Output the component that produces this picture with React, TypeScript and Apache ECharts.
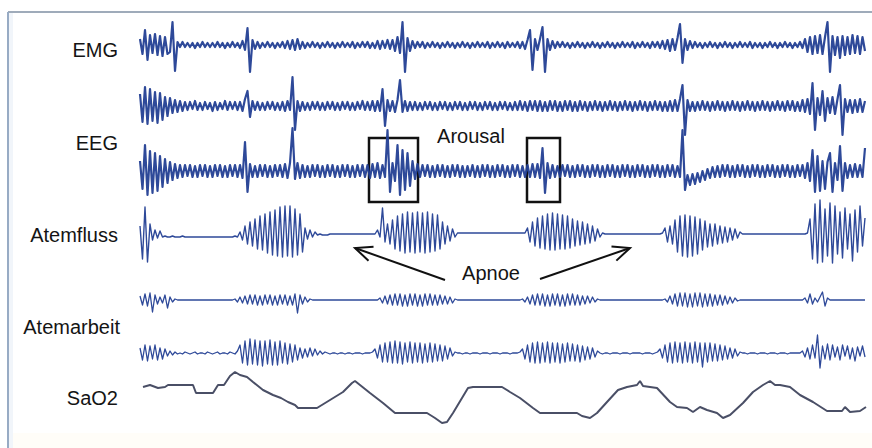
import { useEffect, useRef } from "react";
import * as echarts from "echarts";

// sample spacing of the signal arrays (time units)
const STEP = 2.5;

const emg = [
  6, -9, 15, -15, 10, -8, 11, -10, 9, -11,
  8, -9, -7, 23, -26, 3, -2, 3, -2, 2,
  -2, 2, -3, 2, -2, 3, -2, 2, -2, 2,
  -2, 3, -2, 2, -3, 2, -2, 3, -2, 2,
  -3, 4, -5, 17, -27, 5, -4, 3, -3, 2,
  -2, 3, -2, 2, -3, 2, -2, 3, -3, 4,
  -4, 5, -5, 6, -4, 3, -3, 2, -2, 3,
  -2, 2, -3, 2, -2, 3, -2, 2, -3, 2,
  -2, 3, -2, 2, -2, 3, -3, 2, -2, 3,
  -2, 3, -3, 2, -3, 4, -4, 4, -3, 5,
  -4, 5, -6, 8, -8, 23, -27, 7, -6, 4,
  -3, 3, -2, 3, -3, 2, -2, 3, -2, 2,
  -3, 2, -2, 3, -2, 2, -3, 2, -2, 3,
  -2, 2, -3, 2, -2, 3, -2, 2, -2, 3,
  -3, 2, -2, 3, -2, 2, -3, 3, -2, 2,
  -2, 3, -3, 3, -4, 5, 15, -25, 6, -5,
  6, 18, -27, 6, -5, 4, -3, 3, -2, 3,
  -2, 2, -3, 2, -2, 3, -2, 2, -3, 2,
  -2, 3, -2, 2, -3, 2, -2, 3, -2, 2,
  -3, 2, -2, 3, -2, 2, -2, 3, -3, 2,
  -2, 3, -2, 2, -3, 3, -2, 3, -3, 4,
  -4, 5, -6, 6, -5, 7, 21, -18, 6, -5,
  4, -3, 3, -2, 2, -3, 2, -2, 3, -2,
  2, -3, 2, -2, 3, -2, 2, -3, 2, -2,
  3, -2, 2, -2, 3, -3, 2, -2, 2, -3,
  2, -2, 3, -2, 2, -3, 2, -2, 3, -2,
  2, -3, 2, -2, 3, -3, 6, -7, 8, -9,
  9, -8, 10, -9, 8, 23, -27, 9, -10, 8,
  -13, 9, -10, 8, -9, 10, -8, 9, -9, 8,
  -6,
];

const eegUpper = [
  12, -16, 19, -18, 17, -15, 14, -17, 13, -14,
  9, -10, 8, -7, 6, -6, 5, -5, 4, -4,
  4, -3, 5, -4, 3, -4, 4, -3, 3, -5,
  4, -4, 3, -3, 5, -4, 4, -3, 4, -4,
  4, -5, 7, 15, -11, 5, -4, 4, -4, 3,
  -4, 4, -3, 4, -4, 3, -4, 4, -5, 5,
  -4, 29, -24, 5, -5, 4, -4, 3, -4, 4,
  -3, 4, -4, 3, -4, 4, -3, 4, -4, 3,
  -4, 4, -3, 4, -4, 3, -4, 4, -3, 5,
  -4, 4, -4, 5, -5, 5, -5, 17, -20, 6,
  -5, 5, -6, 6, 26, -6, 5, -5, 4, -4,
  4, -4, 3, -4, 4, -3, 4, -4, 3, -4,
  4, -3, 4, -4, 3, -4, 4, -3, 4, -4,
  3, -4, 4, -3, 4, -4, 3, -4, 4, -3,
  4, -4, 3, -4, 4, -3, 4, -4, 3, -4,
  4, -4, 5, -4, 4, -5, 5, -4, 5, -5,
  5, -5, 4, -5, 5, -4, 5, -5, 4, -5,
  5, -4, 5, -5, 4, -5, 5, -4, 4, -5,
  4, -4, 5, -4, 4, -5, 4, -4, 5, -4,
  4, -5, 4, -4, 5, -4, 4, -5, 4, -4,
  5, -4, 4, -5, 4, -4, 5, -4, 4, -5,
  4, -5, 5, -5, 6, -5, 7, 21, -29, 6,
  -5, 4, -5, 4, -4, 5, -4, 4, -5, 4,
  -4, 5, -4, 4, -5, 4, -4, 5, -4, 4,
  -5, 4, -4, 5, -4, 4, -5, 4, -4, 5,
  -4, 4, -5, 4, -4, 5, -4, 4, -5, 5,
  -4, 5, -5, 4, -5, 6, -6, 7, -8, 23,
  -24, 8, -9, 15, -15, 8, -7, 9, -8, 7,
  21, -29, 7, -6, 6, -7, 6, -6, 7, -6,
  5,
];

const eegLower = [
  10, -18, 26, -24, 20, -22, 18, -20, 15, -16,
  12, -12, 9, -9, 7, -7, 6, -6, 6, -5,
  6, -6, 5, -6, 6, -5, 6, -6, 5, -6,
  6, -5, 6, -6, 5, -6, 6, -5, 6, -6,
  6, -7, 29, -21, 7, -6, 5, -6, 6, -5,
  6, -6, 5, -6, 6, -5, 6, -6, 7, -7,
  8, 43, -8, 8, -7, 6, -6, 5, -6, 6,
  -5, 6, -6, 5, -6, 6, -5, 6, -6, 5,
  -6, 6, -5, 6, -6, 5, -6, 6, -5, 6,
  -6, 6, -7, 7, -6, 8, -7, 6, -6, 41,
  -21, 8, -10, 26, -24, 21, -19, 18, -15, 10,
  -8, 7, -6, 6, -5, 6, -6, 5, -6, 6,
  -5, 6, -6, 5, -6, 6, -5, 6, -6, 5,
  -6, 5, -5, 6, -6, 5, -6, 6, -5, 6,
  -6, 5, -6, 6, -5, 6, -6, 5, -6, 6,
  -5, 6, -6, 5, -6, 6, -6, 7, -6, 7,
  -7, 23, -22, 8, -7, 6, -6, 5, -6, 6,
  -5, 6, -6, 5, -6, 6, -5, 6, -6, 5,
  -6, 6, -5, 6, -6, 5, -6, 6, -5, 6,
  -6, 5, -6, 6, -5, 6, -6, 5, -6, 6,
  -5, 6, -6, 5, -6, 6, -5, 6, -6, 5,
  -6, 6, -5, 6, -6, 5, -6, 41, -19, -4,
  -14, -3, -13, -2, -11, 0, -9, 2, -7, 4,
  -6, 5, -6, 6, -5, 6, -6, 5, -6, 6,
  -5, 6, -6, 5, -6, 6, -5, 6, -6, 5,
  -6, 6, -5, 6, -6, 5, -6, 6, -5, 6,
  -6, 5, -6, 6, -5, 6, -7, 8, -10, 21,
  -21, 15, -20, 10, -18, 9, 18, -21, 8, -9,
  25, -20, 8, -7, 6, -6, 7, -6, 6, -6,
  23,
];

const atemfluss = [
  8, -25, 27, -28, 10, -6, 4, -4, 3, -3,
  -2, -3, -3, -2, -3, -3, -3, -2, -3, -3,
  -3, -3, -3, -3, -3, -3, -3, -3, -3, -3,
  -3, -3, -3, -3, -3, -3, -3, -3, -2, -3,
  2, -6, 8, -10, 12, -12, 15, -15, 18, -16,
  20, -19, 22, -21, 24, -22, 27, -23, 28, -22,
  28, -23, 25, -21, 20, -18, 6, -5, 4, -3,
  2, -1, 0, -1, -1, -1, 0, 0, 0, 0,
  0, 0, 0, 0, 0, 0, 0, 0, 0, 0,
  0, 0, 0, 0, 0, 4, -3, 26, -8, 10,
  -10, 14, -15, 18, -17, 20, -19, 22, -18, 21,
  -19, 22, -18, 21, -19, 22, -18, 20, -17, 19,
  -15, 12, -10, 8, -7, 5, -3, 1, 1, 1,
  1, 1, 1, 1, 1, 1, 1, 1, 1, 1,
  1, 1, 1, 1, 1, 1, 1, 1, 1, 1,
  1, 1, 1, 1, 1, 6, -8, 12, -12, 16,
  -14, 18, -15, 20, -16, 21, -16, 20, -15, 19,
  -15, 18, -14, 15, -12, 13, -11, 12, -10, 10,
  -9, 8, -7, 5, -3, 1, 0, 0, 0, 0,
  0, 0, 0, 0, 0, 0, 0, 0, 0, 0,
  0, 0, 0, 0, 0, 0, 0, 0, 0, 1,
  6, -8, 8, -10, 14, -18, 18, -22, 19, -23,
  18, -22, 17, -20, 15, -16, 13, -13, 10, -12,
  10, -10, 8, -9, 7, -8, 6, -6, 5, -4,
  2, 0, 0, 0, 0, 0, 0, 0, 0, 0,
  0, 0, 0, 0, 0, 0, 0, 0, 0, 0,
  0, 0, 0, 0, 0, 0, 0, 1, 15, -25,
  30, -29, 34, -28, 25, -22, 31, -29, 28, -20,
  22, -24, 26, -15, 20, -27, 24, -18, 28, -12,
  16,
];

const atemarbeitUpper = [
  4, -5, 6, -6, 7, -12, 5, -4, 3, -3,
  5, -8, 3, -2, 1, 0, 0, 0, 0, 0,
  0, 0, 0, 0, 0, 0, 0, 0, 0, 0,
  0, 0, 0, 0, 0, 0, 0, 0, 1, -2,
  3, -3, 4, -4, 5, -4, 5, -5, 4, -5,
  5, -4, 5, -5, 4, -5, 5, -4, 5, -5,
  4, -5, 6, -13, 5, -4, 3, -2, 1, 0,
  0, 0, 0, 0, 0, 0, 0, 0, 0, 0,
  0, 0, 0, 0, 0, 0, 0, 0, 0, 0,
  0, 0, 0, 0, 0, 0, 2, -3, 4, -4,
  5, -5, 6, -5, 6, -6, 5, -6, 6, -5,
  6, -6, 5, -6, 6, -5, 6, -5, 5, -5,
  5, -4, 4, -4, 3, -3, 1, 0, 0, 0,
  0, 0, 0, 0, 0, 0, 0, 0, 0, 0,
  0, 0, 0, 0, 0, 0, 0, 0, 0, 0,
  0, 0, 0, 1, -2, 3, -4, 5, -5, 6,
  -5, 6, -6, 5, -6, 6, -5, 6, -6, 5,
  -6, 6, -5, 6, -5, 5, -5, 4, -4, 4,
  -3, 3, -2, 1, 0, 0, 0, 0, 0, 0,
  0, 0, 0, 0, 0, 0, 0, 0, 0, 0,
  0, 0, 0, 0, 0, 0, 0, 0, 0, 0,
  1, -2, 4, -4, 6, -6, 7, -6, 7, -7,
  6, -7, 7, -6, 7, -7, 6, -6, 6, -6,
  5, -5, 5, -5, 4, -4, 3, -3, 2, -1,
  0, 0, 0, 0, 0, 0, 0, 0, 0, 0,
  0, 0, 0, 0, 0, 0, 0, 0, 0, 0,
  0, 0, 0, 0, 0, 0, 2, -3, 6, -4,
  2, -2, 3, 8, -6, 2, 0, 0, 0, 0,
  0, 0, 0, 0, 0, 0, 0, 0, 0, 0,
  0,
];

const atemarbeitLower = [
  5, -7, 8, -8, 7, -6, 8, -7, 5, -6,
  4, -3, 2, -2, 1, -1, 0, -1, 1, 0,
  -1, 0, 1, -1, 0, 0, -1, 1, 0, -1,
  0, 1, -1, 0, 0, -1, 1, 0, -1, 2,
  8, -10, 12, -12, 14, -11, 13, -12, 12, -13,
  12, -11, 13, -12, 11, -12, 12, -10, 10, -11,
  9, -9, 8, -7, 5, -5, 4, -4, 5, -3,
  4, -2, 2, -1, 1, 0, -1, 0, 0, -1,
  0, 0, -1, 0, 0, -1, 0, 0, 0, -1,
  0, 0, 0, 1, 4, -5, 8, -9, 10, -9,
  11, -10, 12, -10, 11, -11, 10, -9, 11, -10,
  10, -9, 10, -10, 9, -9, 10, -9, 9, -8,
  8, -8, 7, -6, 5, -3, 1, 0, 0, -1,
  0, 0, -1, 0, 0, 0, -1, 0, 0, 0,
  -1, 0, 0, 0, -1, 0, 0, 0, -1, 0,
  0, 0, 1, 4, -6, 8, -9, 10, -10, 11,
  -10, 10, -9, 11, -10, 10, -9, 10, -10, 9,
  -9, 10, -8, 9, -8, 8, -9, 7, -7, 6,
  -6, 5, -4, 2, 0, -1, 0, 0, -1, 0,
  0, 0, -1, 0, 0, 0, -1, 0, 0, 0,
  0, -1, 0, 0, 0, -1, 0, 1, 4, -5,
  8, -9, 10, -10, 11, -9, 10, -10, 11, -9,
  10, -10, 11, -9, 10, -14, 10, -9, 10, -8,
  9, -8, 8, -7, 7, -6, 5, -5, 4, -3,
  1, 0, 0, -1, 0, 0, 0, -1, 0, 0,
  0, -1, 0, 0, 0, -1, 0, 0, 0, -1,
  0, 0, 0, 0, 0, 2, -4, 5, -6, 8,
  -5, 18, -15, 7, -6, 9, -7, 8, -4, 6,
  -7, 8, -3, 7, -6, 5, -8, 6, -3, 7,
  -4,
];

const sao2Time = [
  3, 10, 18, 25, 28, 53, 56, 73, 78, 84, 90, 95, 100, 107, 113, 123, 133, 141, 148, 155,
  158, 177, 190, 203, 212, 215, 220, 230, 243, 255, 287, 295, 302, 307, 313, 322, 328, 333, 362, 370,
  380, 393, 400, 437, 442, 450, 457, 467, 478, 487, 497, 500, 503, 517, 530, 537, 547, 553, 560, 567,
  577, 583, 590, 603, 613, 623, 630, 635, 640, 650, 660, 673, 687, 702, 705, 710, 720, 726,
];
const sao2Value = [
  94.6, 95.0, 94.4, 94.6, 95.0, 95.0, 93.4, 93.4, 95.0, 95.0, 96.8, 97.6, 97.0, 96.6, 95.6, 94.0, 93.0, 92.4, 91.6, 91.0,
  90.4, 90.4, 92.0, 93.6, 95.4, 95.8, 95.0, 93.4, 91.4, 89.4, 89.4, 88.4, 87.4, 87.6, 89.4, 92.4, 94.4, 94.6, 94.6, 93.6,
  92.4, 90.4, 89.4, 89.4, 88.8, 88.4, 89.4, 91.6, 94.0, 94.6, 95.0, 95.8, 94.8, 94.4, 91.6, 90.6, 90.4, 89.6, 90.6, 90.0,
  89.4, 88.4, 89.0, 91.4, 93.6, 95.0, 95.8, 95.0, 95.0, 94.6, 93.0, 91.6, 89.8, 89.8, 90.6, 89.6, 89.8, 90.6,
];

const channelLabels = ["EMG", "EEG", "Atemfluss", "Atemarbeit", "SaO2"];
const arousalWindows = [
  [229, 278],
  [387, 420],
];
const annotationLabels = ["Arousal", "Apnoe"];

const SIGNAL_COLOR = "#233f94";
const FONT = "'Liberation Sans', Arial, Helvetica, sans-serif";

export default function App() {
  const ref = useRef<HTMLDivElement>(null);

  useEffect(() => {
    if (!ref.current) return;
    const chart = echarts.init(ref.current, undefined, { renderer: "svg" });

    const traces = [
      { data: emg, center: 45, range: 30, width: 2.2 },
      { data: eegUpper, center: 106, range: 30, width: 2.2 },
      { data: eegLower, center: 171, range: 35, width: 2.2 },
      { data: atemfluss, center: 234, range: 35, width: 1.4 },
      { data: atemarbeitUpper, center: 300, range: 25, width: 1.3 },
      { data: atemarbeitLower, center: 353, range: 25, width: 1.3 },
    ];

    const grids: any[] = traces.map((t) => ({
      left: 140,
      width: 730,
      top: t.center - t.range,
      height: t.range * 2,
    }));
    grids.push({ left: 140, width: 730, top: 370, height: 60 });

    const xAxes = grids.map((_, k) => ({
      type: "value",
      gridIndex: k,
      min: 0,
      max: 730,
      show: false,
    }));
    const yAxes: any[] = traces.map((t, k) => ({
      type: "value",
      gridIndex: k,
      min: -t.range,
      max: t.range,
      show: false,
    }));
    yAxes.push({ type: "value", gridIndex: traces.length, min: 86, max: 98, show: false });

    const series: any[] = traces.map((t, k) => ({
      type: "line",
      xAxisIndex: k,
      yAxisIndex: k,
      data: t.data.map((v, i) => [i * STEP, v]),
      symbol: "none",
      showSymbol: false,
      clip: false,
      silent: true,
      lineStyle: { color: SIGNAL_COLOR, width: t.width, opacity: 0.95, join: "round" },
      z: 3,
    }));
    series[2].markArea = {
      silent: true,
      itemStyle: { color: "rgba(0,0,0,0)", borderColor: "#111", borderWidth: 2.5 },
      data: arousalWindows.map(([a, b]) => [{ coord: [a, 33] }, { coord: [b, -31] }]),
    };
    series.push({
      type: "line",
      xAxisIndex: traces.length,
      yAxisIndex: traces.length,
      data: sao2Time.map((t, i) => [t, sao2Value[i]]),
      symbol: "none",
      showSymbol: false,
      clip: false,
      silent: true,
      lineStyle: { color: "#4a4f66", width: 2 },
      z: 3,
    });

    const labelPos = [
      { x: 118, y: 50 },
      { x: 118, y: 143 },
      { x: 118, y: 235 },
      { x: 120, y: 327 },
      { x: 118, y: 398 },
    ];
    const labelTexts = channelLabels.map((name, k) => ({
      type: "text",
      x: labelPos[k].x,
      y: labelPos[k].y,
      style: {
        text: name,
        fill: "#141414",
        font: `20px ${FONT}`,
        textAlign: "right",
        textVerticalAlign: "middle",
      },
      z: 10,
    }));

    const arrow = (from: number[], tip: number[]) => {
      const dx = tip[0] - from[0];
      const dy = tip[1] - from[1];
      const len = Math.hypot(dx, dy);
      const ux = dx / len;
      const uy = dy / len;
      const bx = tip[0] - ux * 17;
      const by = tip[1] - uy * 17;
      const px = -uy * 7.5;
      const py = ux * 7.5;
      return [
        {
          type: "line",
          shape: { x1: from[0], y1: from[1], x2: tip[0], y2: tip[1] },
          style: { stroke: "#111", lineWidth: 2 },
          z: 10,
        },
        {
          type: "polyline",
          shape: {
            points: [
              [bx + px, by + py],
              [tip[0], tip[1]],
              [bx - px, by - py],
            ],
          },
          style: { stroke: "#111", lineWidth: 2, fill: "none" },
          z: 10,
        },
      ];
    };

    const graphic: any[] = [
      { type: "rect", shape: { x: 0, y: 0, width: 872, height: 448 }, style: { fill: "#ffffff" }, z: -10 },
      { type: "rect", shape: { x: 10, y: 433, width: 862, height: 15 }, style: { fill: "#fffdf8" }, z: -9 },
      { type: "rect", shape: { x: 9, y: 13, width: 4, height: 435 }, style: { fill: "#f1f5fa" }, z: -8 },
      {
        type: "line",
        shape: { x1: 8, y1: 12, x2: 872, y2: 12 },
        style: { stroke: "#7f8fa3", lineWidth: 1.5 },
        z: 1,
      },
      {
        type: "line",
        shape: { x1: 8, y1: 12, x2: 8, y2: 448 },
        style: { stroke: "#98abc4", lineWidth: 2 },
        z: 1,
      },
      ...labelTexts,
      {
        type: "text",
        x: 471,
        y: 136,
        style: {
          text: annotationLabels[0],
          fill: "#141414",
          font: `20px ${FONT}`,
          textAlign: "center",
          textVerticalAlign: "middle",
        },
        z: 10,
      },
      {
        type: "text",
        x: 491,
        y: 273,
        style: {
          text: annotationLabels[1],
          fill: "#141414",
          font: `20px ${FONT}`,
          textAlign: "center",
          textVerticalAlign: "middle",
        },
        z: 10,
      },
      ...arrow([445, 280], [355, 248]),
      ...arrow([540, 279], [630, 248]),
    ];

    chart.setOption({
      animation: false,
      backgroundColor: "#ffffff",
      grid: grids,
      xAxis: xAxes,
      yAxis: yAxes,
      series,
      graphic,
    });

    return () => chart.dispose();
  }, []);

  return (
    <div
      ref={ref}
      style={{ position: "fixed", left: 0, top: 0, width: 872, height: 448, background: "#fff" }}
    />
  );
}
